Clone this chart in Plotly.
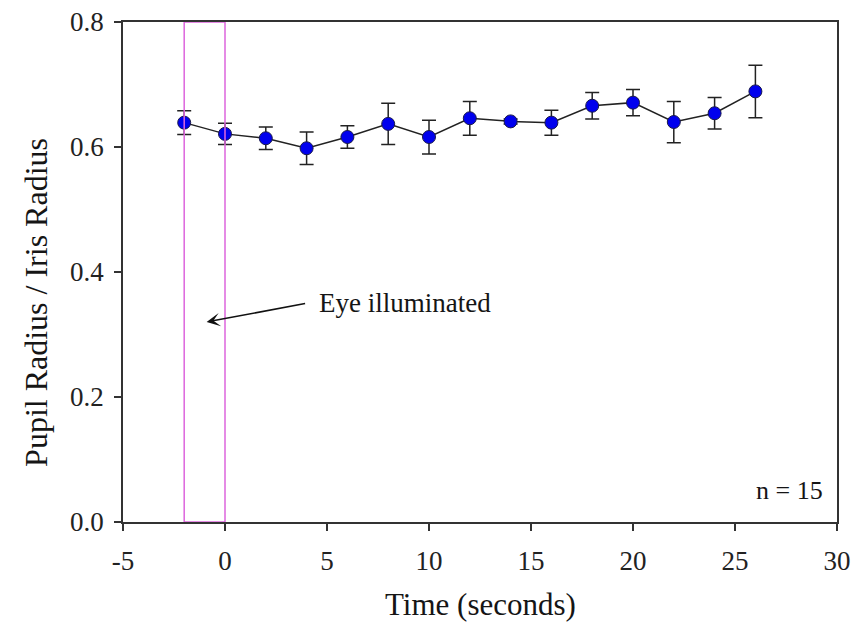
import plotly.graph_objects as go

# Dados
tempo = [-2, 0, 2, 4, 6, 8, 10, 12, 14, 16, 18, 20, 22, 24, 26]
razao = [0.639, 0.621, 0.614, 0.598, 0.616, 0.637, 0.616, 0.646, 0.641, 0.639, 0.666, 0.671, 0.640, 0.654, 0.689]
erro = [0.019, 0.017, 0.018, 0.026, 0.018, 0.033, 0.027, 0.027, 0.004, 0.020, 0.021, 0.021, 0.033, 0.025, 0.042]

ticks_x = [-5, 0, 5, 10, 15, 20, 25, 30]
rotulos_x = ["-5", "0", "5", "10", "15", "20", "25", "30"]
ticks_y = [0, 0.2, 0.4, 0.6, 0.8]

fonte = "Liberation Serif, Times New Roman, serif"
cor_texto = "#151515"

fig = go.Figure()

# Faixa de iluminação do olho
fig.add_shape(type="rect", x0=-2, x1=0, y0=0, y1=0.8, xref="x", yref="y",
              line=dict(color="#dd66dd", width=1.5), fillcolor="rgba(0,0,0,0)")

fig.add_trace(go.Scatter(
    x=tempo, y=razao, mode="lines+markers",
    line=dict(color="#222222", width=1.5),
    marker=dict(color="#0000ee", size=13, symbol="circle", line=dict(color="#1a1a4a", width=1)),
    error_y=dict(type="data", array=erro, visible=True, color="#222222", thickness=1.5, width=7),
    showlegend=False,
))

# Seta e textos
fig.add_annotation(x=-0.9, y=0.32, ax=4.0, ay=0.35, xref="x", yref="y", axref="x", ayref="y",
                   text="", showarrow=True, arrowhead=3, arrowsize=1.5, arrowwidth=1.5, arrowcolor="#111111")
fig.add_annotation(x=4.5, y=0.35, xref="x", yref="y", text="Eye illuminated", showarrow=False,
                   xanchor="left", yanchor="middle", font=dict(family=fonte, size=27, color=cor_texto))
fig.add_annotation(x=29.4, y=0.051, xref="x", yref="y", text="n = 15", showarrow=False,
                   xanchor="right", yanchor="middle", font=dict(family=fonte, size=26, color=cor_texto))

# Títulos dos eixos
fig.add_annotation(x=0.5, y=-0.164, xref="paper", yref="paper", text="Time (seconds)", showarrow=False,
                   xanchor="center", yanchor="middle", font=dict(family=fonte, size=31, color=cor_texto))
fig.add_annotation(x=-0.122, y=0.44, xref="paper", yref="paper", text="Pupil Radius / Iris Radius",
                   showarrow=False, textangle=-90, xanchor="center", yanchor="middle",
                   font=dict(family=fonte, size=32, color=cor_texto))

eixo = dict(showgrid=False, zeroline=False, showline=True, linecolor="#333333", linewidth=1.5,
            mirror=True, ticks="outside", ticklen=7, tickcolor="#333333", tickwidth=1.5,
            tickfont=dict(family=fonte, size=27, color="#222222"), automargin=False,
            ticklabeloverflow="allow")

fig.update_xaxes(range=[-5, 30], tickvals=ticks_x, ticktext=rotulos_x, ticklabelstandoff=7, **eixo)
fig.update_yaxes(range=[0, 0.8], tickvals=ticks_y, tickformat=".1f", ticklabelstandoff=5, **eixo)

fig.update_layout(width=862, height=623, plot_bgcolor="white", paper_bgcolor="white",
                  margin=dict(l=123, r=25, t=22, b=101))

# tira a margem padrão do body para a figura ocupar a janela inteira
fig.write_html("out.html", config={"displayModeBar": False},
               post_script="document.body.style.margin='0';")
